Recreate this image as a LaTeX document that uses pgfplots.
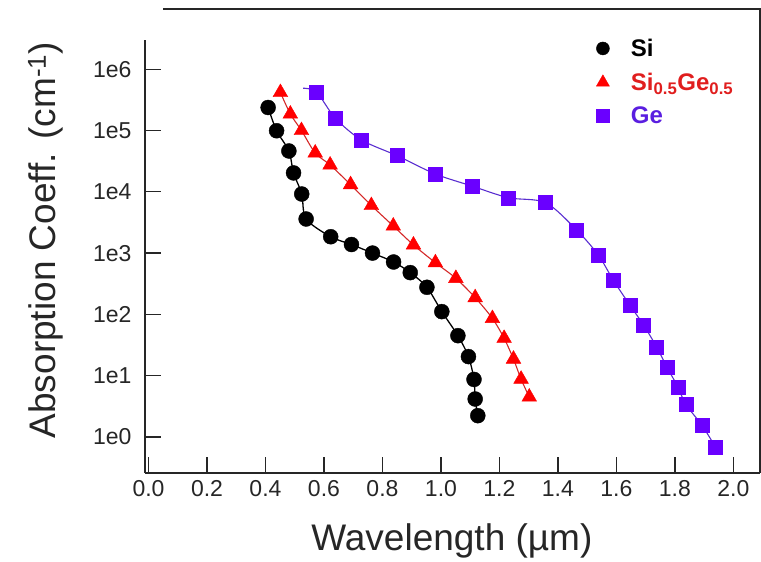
\documentclass[border=0pt]{standalone}
\usepackage{fontspec}
\setmainfont{Liberation Sans}
\usepackage{pgfplots}
\usepackage{pgfplotstable}
\pgfplotsset{compat=1.18}
\definecolor{sigered}{HTML}{FF0000}
\definecolor{sigeline}{HTML}{D42828}
\definecolor{sigetext}{HTML}{E01E1E}
\definecolor{gepurple}{HTML}{6A00FF}
\definecolor{geline}{HTML}{5A2ED0}
\definecolor{getext}{HTML}{5A1EE0}

% legend image: one mark, a bit smaller than in the plot, with room after it
\pgfplotsset{legmark/.style={legend image code/.code={%
  \draw[##1, mark size=#1] plot coordinates {(7pt,0pt)};
  \path[draw=none, fill=none] (0pt,0pt) -- (33pt,0pt);}}}

% Si
\pgfplotstableread{
x y
0.409 2.37e5
0.438 9.9e4
0.480 4.63e4
0.496 2.03e4
0.524 9.2e3
0.539 3.6e3
0.623 1.85e3
0.694 1.38e3
0.766 1.0e3
0.838 716
0.895 480
0.952 277
1.003 111
1.058 45
1.094 20.5
1.113 8.7
1.117 4.17
1.126 2.23
}\si

% Si0.5Ge0.5
\pgfplotstableread{
x y
0.451 4.17e5
0.485 1.86e5
0.523 1.0e5
0.570 4.3e4
0.621 2.74e4
0.691 1.31e4
0.762 5.98e3
0.837 2.77e3
0.906 1.36e3
0.981 697
1.051 388
1.117 188
1.176 86
1.216 40.8
1.248 18.7
1.274 8.8
1.302 4.5
}\sige

% Ge
\pgfplotstableread{
x y
0.575 4.2e5
0.639 1.58e5
0.728 7.0e4
0.850 3.88e4
0.981 1.95e4
1.106 1.24e4
1.231 8.0e3
1.358 6.64e3
1.464 2.38e3
1.538 931
1.589 364
1.646 142
1.693 67
1.737 29.7
1.773 13.7
1.810 6.6
1.837 3.42
1.892 1.57
1.938 0.695
}\ge

% Ge fitted curve, starts a little left of the first point
\pgfplotstableread{
x y
0.529 4.89e5
0.575 4.2e5
0.639 1.58e5
0.728 7.0e4
0.850 3.88e4
0.981 1.95e4
1.106 1.24e4
1.231 8.0e3
1.358 6.64e3
1.464 2.38e3
1.538 931
1.589 364
1.646 142
1.693 67
1.737 29.7
1.773 13.7
1.810 6.6
1.837 3.42
1.892 1.57
1.938 0.695
}\gecurve

\begin{document}
\begin{tikzpicture}[x=1pt,y=1pt]
\path[use as bounding box] (-145,-89) rectangle (616,473);
\begin{axis}[
  at={(0,0)}, anchor=south west,
  scale only axis, width=615pt, height=433pt,
  xmin=-0.012, xmax=2.091,
  ymode=log, ymin=0.259, ymax=2.99e6,
  axis x line*=bottom, axis y line*=left,
  axis line style={line width=1.6pt, black!85},
  tick align=inside, major tick length=16pt,
  tick style={line width=1.3pt, black!85},
  xtick={0,0.2,0.4,0.6,0.8,1.0,1.2,1.4,1.6,1.8,2.0},
  xticklabel style={/pgf/number format/.cd, fixed, fixed zerofill, precision=1,
    assume math mode=true, /tikz/.cd, yshift=-4pt},
  ytick={1,10,100,1000,10000,100000,1000000},
  yticklabels={1e0,1e1,1e2,1e3,1e4,1e5,1e6},
  yticklabel style={xshift=-10pt},
  yminorticks=false,
  ticklabel style={font=\fontsize{23}{23}\selectfont, text=black!85},
  xlabel={Wavelength (µm)},
  ylabel={Absorption Coeff. (cm\textsuperscript{-1})},
  label style={font=\fontsize{37}{37}\selectfont, text=black!85},
  xlabel style={at={(axis description cs:0.499,-0.180)}, anchor=base},
  ylabel style={at={(axis description cs:-0.1463,0.538)}, anchor=base},
  clip=false,
  legend style={at={(axis description cs:0.728,1.012)}, anchor=north west,
    draw=none, fill=none, font=\bfseries\fontsize{24}{24}\selectfont,
    row sep=11pt},
  legend cell align=left,
]
\addplot[black, line width=1.3pt, smooth, forget plot] table {\si};
\addplot[sigeline, line width=1.1pt, smooth, forget plot] table {\sige};
\addplot[geline, line width=1.1pt, smooth, forget plot] table {\gecurve};

\addplot[only marks, mark=*, mark size=7.5pt, black, legmark=6.5pt] table {\si};
\addlegendentry{Si}
\addplot[only marks, mark=triangle*, mark size=8.5pt, sigered, legmark=7.5pt] table {\sige};
\addlegendentry{\textcolor{sigetext}{Si\textsubscript{0.5}Ge\textsubscript{0.5}}}
\addplot[only marks, mark=square*, mark size=7pt, gepurple, legmark=6.5pt] table {\ge};
\addlegendentry{\textcolor{getext}{Ge}}

\draw[line width=1.6pt, black!85] (rel axis cs:0.0293,1.0716) -- (rel axis cs:1,1.0716) -- (rel axis cs:1,0);
\end{axis}
\end{tikzpicture}
\end{document}
